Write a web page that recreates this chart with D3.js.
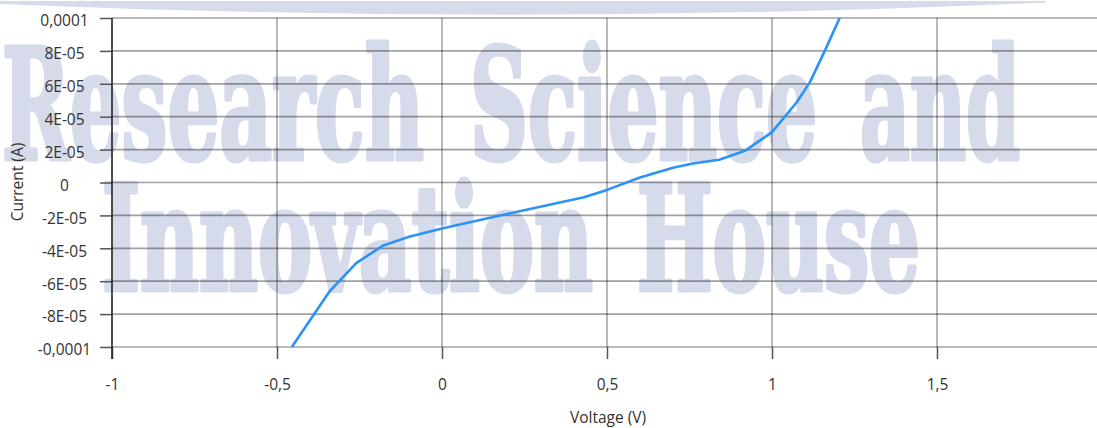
<!DOCTYPE html>
<html>
<head>
<meta charset="utf-8">
<script src="https://cdn.jsdelivr.net/npm/d3@7"></script>
<style>
  html, body { margin: 0; padding: 0; background: #ffffff; }
  svg { display: block; }
</style>
</head>
<body>
<svg id="chart" width="1097" height="428"></svg>
<script>
// ---- data ----
const voltage = [-0.455, -0.34, -0.26, -0.18, -0.10, 0.0, 0.20, 0.43, 0.50, 0.60, 0.70, 0.76, 0.84, 0.92, 1.00, 1.075, 1.115, 1.16, 1.205];
const current = [-1.0e-4, -6.6e-5, -4.9e-5, -3.85e-5, -3.3e-5, -2.8e-5, -1.9e-5, -0.9e-5, -0.45e-5, 0.3e-5, 0.9e-5, 1.15e-5, 1.38e-5, 1.95e-5, 3.06e-5, 4.88e-5, 6.1e-5, 8.0e-5, 1.0e-4];

const xTickValues = [-1, -0.5, 0, 0.5, 1, 1.5];
const xTickLabels = ["-1", "-0,5", "0", "0,5", "1", "1,5"];
const xGridValues = [-0.5, 0, 0.5, 1, 1.5, 2];
const yTickValues = [-1e-4, -8e-5, -6e-5, -4e-5, -2e-5, 0, 2e-5, 4e-5, 6e-5, 8e-5, 1e-4];
const yTickLabels = ["-0,0001", "-8E-05", "-6E-05", "-4E-05", "-2E-05", "0", "2E-05", "4E-05", "6E-05", "8E-05", "0,0001"];

const xTitle = "Voltage (V)";
const yTitle = "Current (A)";
const watermarkWords = [
  { text: "Research", x0: 2, x1: 424, line: 0 },
  { text: "Science", x0: 470, x1: 817, line: 0 },
  { text: "and", x0: 860, x1: 1020, line: 0 },
  { text: "Innovation", x0: 102, x1: 593, line: 1 },
  { text: "House", x0: 637, x1: 920, line: 1 }
];

// ---- layout ----
const W = 1097, H = 428;
const svg = d3.select("#chart");
const x = d3.scaleLinear().domain([-1, 2]).range([112, 1102]);
const y = d3.scaleLinear().domain([-1e-4, 1e-4]).range([347, 18]);
const font = "'Open Sans', 'Noto Sans', sans-serif";
const wmColor = "rgb(213,219,235)";

// top decorative arc
svg.append("path")
  .attr("d", "M0,1 L1046,1 L1046,2.5 Q520,26 0,4 Z")
  .attr("fill", wmColor);

// watermark
const baselines = [159, 290];
const sizes = [154, 146];
svg.append("g").selectAll("text")
  .data(watermarkWords)
  .join("text")
  .attr("x", d => d.x0)
  .attr("y", d => baselines[d.line])
  .attr("textLength", d => d.x1 - d.x0)
  .attr("lengthAdjust", "spacingAndGlyphs")
  .attr("font-family", "'DejaVu Serif Condensed', 'DejaVu Serif', serif")
  .attr("font-stretch", "condensed")
  .attr("font-weight", "bold")
  .attr("font-size", d => sizes[d.line])
  .attr("fill", wmColor)
  .attr("stroke", wmColor)
  .attr("stroke-width", 5)
  .attr("stroke-linejoin", "round")
  .text(d => d.text);

// grid
const gridColor = "rgba(0,0,0,0.37)";
svg.append("g").selectAll("line")
  .data(yTickValues)
  .join("line")
  .attr("x1", 112).attr("x2", W)
  .attr("y1", d => y(d)).attr("y2", d => y(d))
  .attr("stroke", gridColor).attr("stroke-width", 1.7);
svg.append("g").selectAll("line")
  .data(xGridValues)
  .join("line")
  .attr("x1", d => x(d)).attr("x2", d => x(d))
  .attr("y1", 18).attr("y2", 347)
  .attr("stroke", gridColor).attr("stroke-width", 1.5);

// x axis ticks and labels
const xAxis = d3.axisBottom(x)
  .tickValues(xTickValues)
  .tickSize(12)
  .tickPadding(18)
  .tickFormat((d, i) => xTickLabels[i]);
const gx = svg.append("g").attr("transform", "translate(0,347)").call(xAxis);
gx.select(".domain").remove();
gx.selectAll(".tick line").attr("stroke", "#555").attr("stroke-width", 1.5);
gx.selectAll(".tick text")
  .attr("y", 43).attr("dy", null)
  .attr("font-family", font).attr("font-size", 15.5).attr("fill", "#333");

// y axis
const yAxis = d3.axisLeft(y)
  .tickValues(yTickValues)
  .tickSize(12)
  .tickFormat((d, i) => yTickLabels[i]);
const gy = svg.append("g").attr("transform", "translate(112,0)").call(yAxis);
gy.select(".domain").remove();
gy.selectAll(".tick line").attr("stroke", "#555").attr("stroke-width", 1.5);
gy.selectAll(".tick text")
  .attr("x", 64.5 - 112).attr("dy", null).attr("y", 7.8)
  .attr("text-anchor", "middle")
  .attr("font-family", font).attr("font-size", 15.5).attr("fill", "#333");
svg.append("line")
  .attr("x1", 112).attr("x2", 112).attr("y1", 18).attr("y2", 359)
  .attr("stroke", "#222").attr("stroke-width", 1.6);

// titles
svg.append("text")
  .attr("x", 608).attr("y", 423)
  .attr("text-anchor", "middle")
  .attr("font-family", font).attr("font-size", 15.5).attr("fill", "#333")
  .text(xTitle);
svg.append("text")
  .attr("transform", "translate(23,182) rotate(-90)")
  .attr("text-anchor", "middle")
  .attr("font-family", font).attr("font-size", 15.5).attr("fill", "#333")
  .text(yTitle);

// curve
const pts = voltage.map((v, i) => [v, current[i]]);
svg.append("path")
  .datum(pts)
  .attr("d", d3.line().x(d => x(d[0])).y(d => y(d[1])))
  .attr("fill", "none")
  .attr("stroke", "#2b93f5")
  .attr("stroke-width", 2.6)
  .attr("stroke-linejoin", "round");
</script>
</body>
</html>
